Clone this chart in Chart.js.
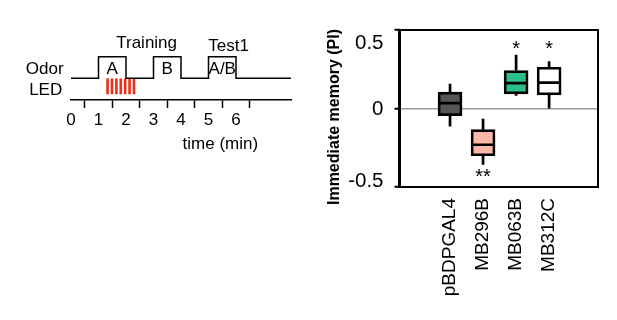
<!DOCTYPE html>
<html lang="en">
<head>
<meta charset="UTF-8">
<title>Immediate memory (PI)</title>
<script src="https://cdn.jsdelivr.net/npm/chart.js"></script>
<style>
  body { margin: 0; background: #fff; width: 617px; height: 320px; position: relative; overflow: hidden; }
  #protocol { position: absolute; left: 0; top: 0; }
  #memory { position: absolute; left: 300px; top: 0; }
</style>
</head>
<body>
<canvas id="protocol" width="300" height="170"></canvas>
<canvas id="memory" width="317" height="320"></canvas>
<script>
// protocol schematic (time in min)
var odorTimes = [0, 1, 2, 3, 4, 5, 6, 8];
var odorLevels = [1, 2, 1, 2, 1, 2, 1, 1];
var odorNames = ['A', 'B', 'A/B'];
var odorMid = [1.5, 3.5, 5.5];
var ledPulses = [1.33, 1.49, 1.65, 1.81, 1.97, 2.13, 2.29];
var ledRange = [0.28, 0.98];
var timeTicks = [0, 1, 2, 3, 4, 5, 6];

// box plot (PI)
var genotypes = ['pBDPGAL4', 'MB296B', 'MB063B', 'MB312C'];
var whiskerLow = [-0.114, -0.358, 0.081, 0.0];
var q1 = [-0.046, -0.301, 0.093, 0.087];
var median = [0.034, -0.231, 0.161, 0.165];
var q3 = [0.104, -0.135, 0.242, 0.263];
var whiskerHigh = [0.157, -0.065, 0.343, 0.301];
var signif = ['', '**', '*', '*'];
var signifLevel = [null, -0.41, 0.405, 0.405];
var yTicks = [-0.5, 0, 0.5];
var boxColors = ['#555555', '#fbb8a8', '#2cbe8e', '#ffffff'];

var FONT = "'Liberation Sans', Arial, Helvetica, sans-serif";
Chart.defaults.font.family = FONT;
Chart.defaults.color = '#000';

var protocolText = {
    id: 'protocolText',
    afterDatasetsDraw: function(chart) {
        var x = chart.scales.x, y = chart.scales.y, ctx = chart.ctx;
        ctx.save();
        ctx.fillStyle = '#000';
        ctx.font = '17px ' + FONT;
        ctx.textBaseline = 'middle';
        ctx.textAlign = 'right';
        ctx.fillText('Odor', x.getPixelForValue(-0.27), y.getPixelForValue(1.42));
        ctx.fillText('LED', x.getPixelForValue(-0.32), y.getPixelForValue(0.46));
        ctx.textAlign = 'center';
        odorNames.forEach(function(n, i) {
            ctx.fillText(n, x.getPixelForValue(odorMid[i]), y.getPixelForValue(1.42));
        });
        ctx.fillText('Training', x.getPixelForValue(2.75), y.getPixelForValue(2.62));
        ctx.fillText('Test1', x.getPixelForValue(5.73), y.getPixelForValue(2.5));
        ctx.fillText('time (min)', x.getPixelForValue(5.43), y.getPixelForValue(-2.05));
        ctx.restore();
    }
};

new Chart(document.getElementById('protocol'), {
    type: 'line',
    data: {
        datasets: [{
            data: odorTimes.map(function(t, i) { return { x: t, y: odorLevels[i] }; }),
            stepped: 'before',
            borderColor: '#000',
            borderWidth: 1.5,
            pointRadius: 0,
            fill: false
        }, {
            type: 'bar',
            data: ledPulses.map(function(t) { return { x: t, y: ledRange }; }),
            backgroundColor: '#e8321e',
            barThickness: 2,
            borderWidth: 0
        }]
    },
    options: {
        responsive: false,
        animation: false,
        layout: { padding: { left: 71, right: 9, top: 35, bottom: 30 } },
        plugins: { legend: { display: false }, tooltip: { enabled: false } },
        scales: {
            x: {
                type: 'linear', min: 0, max: 8, offset: false,
                afterFit: function(s) { s.height = 40; },
                afterBuildTicks: function(s) { s.ticks = timeTicks.map(function(v) { return { value: v }; }); },
                border: { display: true, color: '#000', width: 1.5 },
                grid: { drawOnChartArea: false, drawTicks: true, tickLength: 8, tickColor: '#000', tickWidth: 1.5 },
                ticks: { font: { size: 17 }, color: '#000', padding: 2, maxRotation: 0 }
            },
            y: { display: false, min: 0, max: 3 }
        }
    },
    plugins: [protocolText]
});

// whiskers, medians, frame, labels
var boxDetails = {
    id: 'boxDetails',
    afterDatasetsDraw: function(chart) {
        var x = chart.scales.x, y = chart.scales.y, ctx = chart.ctx, a = chart.chartArea;
        ctx.save();
        ctx.strokeStyle = '#000';
        ctx.lineWidth = 2.7;
        genotypes.forEach(function(g, i) {
            var px = x.getPixelForValue(i + 1);
            ctx.beginPath();
            ctx.moveTo(px, y.getPixelForValue(whiskerHigh[i]));
            ctx.lineTo(px, y.getPixelForValue(q3[i]));
            ctx.moveTo(px, y.getPixelForValue(q1[i]));
            ctx.lineTo(px, y.getPixelForValue(whiskerLow[i]));
            ctx.moveTo(px - 11, y.getPixelForValue(median[i]));
            ctx.lineTo(px + 11, y.getPixelForValue(median[i]));
            ctx.stroke();
        });
        // frame
        ctx.lineWidth = 2;
        ctx.strokeRect(a.left, a.top, a.right - a.left, a.bottom - a.top);
        ctx.lineWidth = 3;
        ctx.beginPath();
        ctx.moveTo(a.left, a.top - 1);
        ctx.lineTo(a.left, a.bottom + 1);
        ctx.stroke();

        // significance
        ctx.fillStyle = '#000';
        ctx.font = '20px ' + FONT;
        ctx.textAlign = 'center';
        ctx.textBaseline = 'middle';
        signif.forEach(function(s, i) {
            if (!s) return;
            ctx.fillText(s, x.getPixelForValue(i + 1), y.getPixelForValue(signifLevel[i]) + 5);
        });

        // y tick labels (end labels tucked inside)
        var nudge = { '0.5': 13, '0': 1, '-0.5': -6 };
        ctx.font = '20.5px ' + FONT;
        ctx.textAlign = 'right';
        yTicks.forEach(function(v) {
            ctx.fillText(String(v), a.left - 16, y.getPixelForValue(v) + nudge[String(v)]);
        });

        // y title
        ctx.font = 'bold 16px ' + FONT;
        ctx.textAlign = 'center';
        ctx.textBaseline = 'alphabetic';
        ctx.translate(39, 117);
        ctx.rotate(-Math.PI / 2);
        ctx.fillText('Immediate memory (PI)', 0, 0);
        ctx.restore();
    }
};

new Chart(document.getElementById('memory'), {
    type: 'bar',
    data: {
        datasets: [{
            data: genotypes.map(function(g, i) { return { x: i + 1, y: [q1[i], q3[i]] }; }),
            backgroundColor: boxColors,
            borderColor: '#000',
            borderWidth: 2.7,
            borderSkipped: false,
            barThickness: 24
        }]
    },
    options: {
        responsive: false,
        animation: false,
        layout: { padding: { left: 0, right: 19, top: 30, bottom: 0 } },
        plugins: { legend: { display: false }, tooltip: { enabled: false } },
        scales: {
            x: {
                type: 'linear', min: -0.53, max: 5.48, offset: false,
                afterFit: function(s) { s.height = 133; },
                afterBuildTicks: function(s) { s.ticks = genotypes.map(function(g, i) { return { value: i + 1 }; }); },
                border: { display: false },
                grid: { display: false, drawTicks: false },
                ticks: {
                    font: { size: 19 }, color: '#000', padding: 11,
                    minRotation: 90, maxRotation: 90, autoSkip: false,
                    callback: function(v) { return genotypes[v - 1]; }
                }
            },
            y: {
                min: -0.5, max: 0.5,
                afterFit: function(s) { s.width = 99.5; },
                afterBuildTicks: function(s) { s.ticks = yTicks.map(function(v) { return { value: v }; }); },
                border: { display: false },
                grid: {
                    color: function(c) { return c.tick && c.tick.value === 0 ? '#9a9a9a' : 'rgba(0,0,0,0)'; },
                    lineWidth: 1.5,
                    drawTicks: true, tickLength: 5, tickColor: '#000', tickWidth: 2
                },
                ticks: { color: 'rgba(0,0,0,0)', font: { size: 19 } }
            }
        }
    },
    plugins: [boxDetails]
});
</script>
</body>
</html>
